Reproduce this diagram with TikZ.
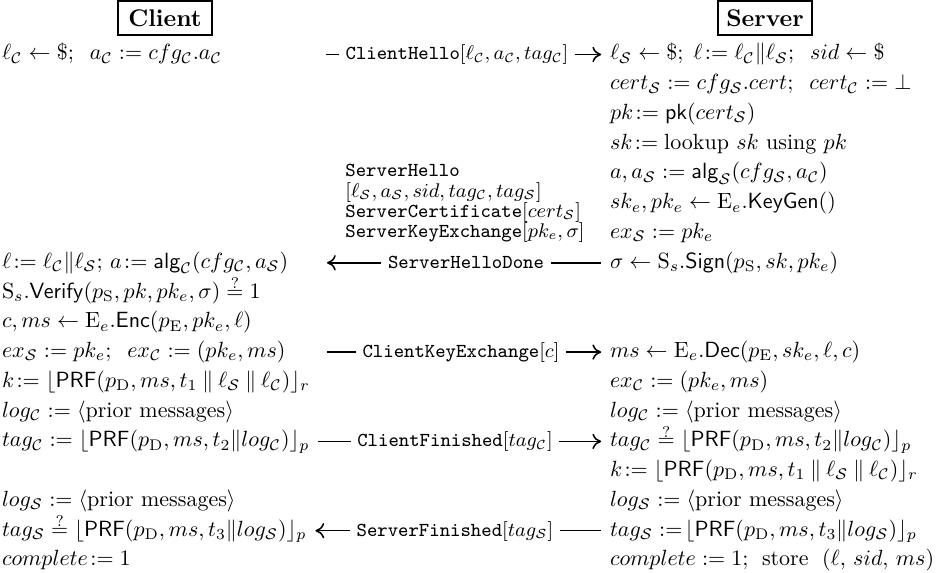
\documentclass[tikz,border=0pt]{standalone}
\usepackage{amsmath,amssymb}
\usetikzlibrary{arrows.meta}
\newcommand{\Cc}{\mathcal{C}}
\newcommand{\Sv}{\mathcal{S}}
\newcommand{\ceq}{\mathrel{:=}}
\newcommand{\ceqt}{\mathrel{\mkern-3mu:=}}
\newcommand{\qeq}{\mathrel{\hbox{\ooalign{$=$\cr\hidewidth\raisebox{4.3pt}{$\scriptstyle ?$}\hidewidth\cr}}}}
\begin{document}
\begin{tikzpicture}[x=0.45455pt,y=-0.45455pt,
  lt/.style={anchor=base west,inner sep=0pt,outer sep=0pt},
  party/.style={draw,line width=0.8pt,font=\fontsize{10.95}{13}\selectfont\bfseries,minimum width=42.7pt,minimum height=15.5pt,inner sep=0pt},
  msg/.style={anchor=base,inner sep=0pt,outer sep=3pt,font=\small},
  blk/.style={anchor=base west,inner sep=0pt,font=\small},
  wire/.style={line width=0.7pt},
  tor/.style={wire,-{Computer Modern Rightarrow[length=4pt,width=7pt]}}
]
\useasboundingbox (0,0) rectangle (938,573);

\node[party] (client) at (165,18) {Client};
\node[party] (server) at (765,18) {Server};

% client column
\node[lt] (l1)  at (2,60)    {$\ell_\Cc \gets \$;\;\; a_\Cc \ceq cfg_\Cc.a_\Cc$};
\node[lt] (l8)  at (2,268.3) {$\ell \ceqt \ell_\Cc\|\ell_\Sv;\, a \ceqt \mathsf{alg}_\Cc(cfg_\Cc, a_\Sv)$};
\node[lt] (l9)  at (2,298.1) {$\mathrm{S}_s.\mathsf{Verify}(p_\mathrm{S}, pk, pk_e, \sigma) \qeq 1$};
\node[lt] (l10) at (2,327.8) {$c, ms \gets \mathrm{E}_e.\mathsf{Enc}(p_\mathrm{E}, pk_e, \ell)$};
\node[lt] (l11) at (2,357.6) {$ex_\Sv \ceq pk_e;\;\; ex_\Cc \ceq (pk_e, ms)$};
\node[lt] (l12) at (2,387.4) {$k \ceqt \lfloor \mathsf{PRF}(p_\mathrm{D}, ms, t_1 \mathbin\| \ell_\Sv \mathbin\| \ell_\Cc)\rfloor_r$};
\node[lt] (l13) at (2,417.1) {$log_\Cc \ceq \langle\text{prior messages}\rangle$};
\node[lt] (l14) at (2,446.9) {$tag_\Cc \ceq \lfloor \mathsf{PRF}(p_\mathrm{D}, ms, t_2\|log_\Cc)\rfloor_p$};
\node[lt] (l16) at (2,506.4) {$log_\Sv \ceq \langle\text{prior messages}\rangle$};
\node[lt] (l17) at (2,536.2) {$tag_\Sv \qeq \lfloor \mathsf{PRF}(p_\mathrm{D}, ms, t_3\|log_\Sv)\rfloor_p$};
\node[lt] (l18) at (2,565.9) {$complete \ceqt 1$};

% server column
\node[lt] (r1)  at (610,60)    {$\ell_\Sv \gets \$;\;\ell \ceqt \ell_\Cc\|\ell_\Sv;\;\; sid \gets \$$};
\node[lt] (r2)  at (610,89.8)  {$cert_\Sv \ceq cfg_\Sv.cert;\;\; cert_\Cc \ceq \bot$};
\node[lt] (r3)  at (610,119.5) {$pk \ceqt \mathsf{pk}(cert_\Sv)$};
\node[lt] (r4)  at (610,149.3) {$sk \ceqt \text{lookup } sk \text{ using } pk$};
\node[lt] (r5)  at (610,179.0) {$a, a_\Sv \ceq \mathsf{alg}_\Sv(cfg_\Sv, a_\Cc)$};
\node[lt] (r6)  at (610,208.8) {$sk_e, pk_e \gets \mathrm{E}_e.\mathsf{KeyGen}()$};
\node[lt] (r7)  at (610,238.6) {$ex_\Sv \ceq pk_e$};
\node[lt] (r8)  at (610,268.3) {$\sigma \gets \mathrm{S}_s.\mathsf{Sign}(p_\mathrm{S}, sk, pk_e)$};
\node[lt] (r11) at (610,357.6) {$ms \gets \mathrm{E}_e.\mathsf{Dec}(p_\mathrm{E}, sk_e, \ell, c)$};
\node[lt] (r12) at (610,387.4) {$ex_\Cc \ceq (pk_e, ms)$};
\node[lt] (r13) at (610,417.1) {$log_\Cc \ceq \langle\text{prior messages}\rangle$};
\node[lt] (r14) at (610,446.9) {$tag_\Cc \qeq \lfloor\mathsf{PRF}(p_\mathrm{D}, ms, t_2\|log_\Cc)\rfloor_p$};
\node[lt] (r15) at (610,476.6) {$k \ceqt \lfloor\mathsf{PRF}(p_\mathrm{D}, ms, t_1\mathbin\|\ell_\Sv\mathbin\|\ell_\Cc)\rfloor_r$};
\node[lt] (r16) at (610,506.4) {$log_\Sv \ceq \langle\text{prior messages}\rangle$};
\node[lt] (r17) at (610,536.2) {$tag_\Sv \ceq\!\lfloor\mathsf{PRF}(p_\mathrm{D}, ms, t_3\|log_\Sv)\rfloor_p$};
\node[lt] (r18) at (610,565.9) {$complete \ceq 1;\;\,\text{store }\;(\ell,\, sid,\, ms)$};

% ServerHello block
\node[blk] (b1) at (345,176) {\texttt{ServerHello}};
\node[blk] (b2) at (345,197) {$[\ell_\Sv, a_\Sv, sid, tag_\Cc, tag_\Sv]$};
\node[blk] (b3) at (345,217) {\texttt{ServerCertificate}$[cert_\Sv]$};
\node[blk] (b4) at (345,237) {\texttt{ServerKeyExchange}$[pk_e, \sigma]$};

% messages
\node[msg] (m1)  at (457,60)    {\texttt{ClientHello}$[\ell_\Cc, a_\Cc, tag_\Cc]$};
\node[msg] (m8)  at (466,268.3) {\texttt{ServerHelloDone}};
\node[msg] (m11) at (461,357.6) {\texttt{ClientKeyExchange}$[c]$};
\node[msg] (m14) at (455,446.9) {\texttt{ClientFinished}$[tag_\Cc]$};
\node[msg] (m17) at (455,536.2) {\texttt{ServerFinished}$[tag_\Sv]$};

\coordinate (c1)  at (326,54.5);
\coordinate (c8)  at (327,262.8);
\coordinate (c11) at (327,352.1);
\coordinate (c14) at ([xshift=4pt,yshift=2.5pt]l14.base east);
\coordinate (c17) at ([xshift=4pt,yshift=2.5pt]l17.base east);

\draw[wire] (c1) -- (m1.west |- c1);
\draw[tor]  (m1.east |- c1) -- ([xshift=-4pt]r1.west |- c1);
\draw[tor]  (m8.west |- c8) -- (c8);
\draw[wire] (m8.east |- c8) -- ([xshift=-4pt]r8.west |- c8);
\draw[wire] (c11) -- (m11.west |- c11);
\draw[tor]  (m11.east |- c11) -- ([xshift=-4pt]r11.west |- c11);
\draw[wire] (c14) -- (m14.west |- c14);
\draw[tor]  (m14.east |- c14) -- ([xshift=-4pt]r14.west |- c14);
\draw[tor]  (m17.west |- c17) -- (c17);
\draw[wire] (m17.east |- c17) -- ([xshift=-4pt]r17.west |- c17);
\end{tikzpicture}
\end{document}
